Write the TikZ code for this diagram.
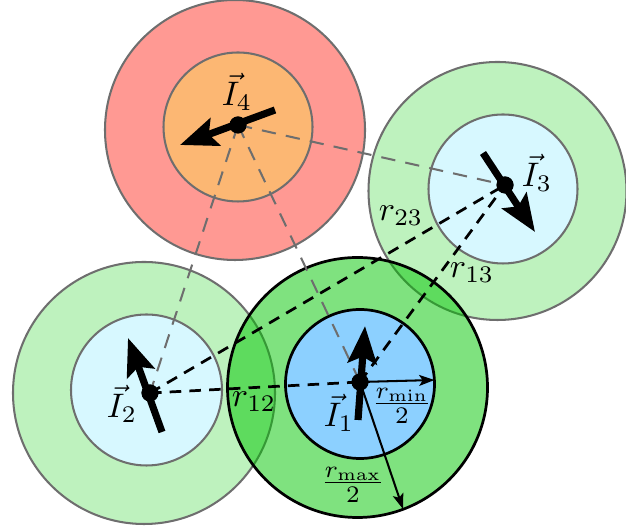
\documentclass[tikz,border=0pt]{standalone}
\usetikzlibrary{arrows.meta}
\definecolor{redring}{RGB}{255,153,147}
\definecolor{orangecore}{RGB}{252,183,115}
\definecolor{greenring}{RGB}{190,242,190}
\definecolor{cyancore}{RGB}{215,248,255}
\definecolor{mainring}{RGB}{0,197,0}
\definecolor{maincore}{RGB}{140,208,255}
\definecolor{edgegray}{RGB}{110,110,110}
\begin{document}
\begin{tikzpicture}[x=0.294pt,y=-0.294pt,
  ring/.style={draw=edgegray, line width=0.6pt},
  mainedge/.style={draw=black, line width=0.8pt},
  dot/.style={circle, fill=black, inner sep=0pt, minimum size=5pt},
  current/.style={line width=2.1pt, -{Stealth[length=11pt,width=8.5pt,inset=2pt]}},
  radiusarrow/.style={line width=0.6pt, -{Stealth[length=4.5pt,width=3.2pt,inset=1pt]}},
  graydash/.style={draw=edgegray, line width=0.6pt, dash pattern=on 4.2pt off 3pt},
  blackdash/.style={draw=black, line width=0.8pt, dash pattern=on 3.4pt off 2.4pt},
  lbl/.style={inner sep=0pt}]
\useasboundingbox (0,0) rectangle (626,531);

% circle 4
\draw[ring, fill=redring] (235,130) circle[radius=130];
\draw[ring, fill=orangecore] (238,127) circle[radius=74.5];
% circle 3
\draw[ring, fill=greenring] (497.5,191) circle[radius=129];
\draw[ring, fill=cyancore] (503,189) circle[radius=74.5];
% circle 2
\draw[ring, fill=greenring] (144,393) circle[radius=131];
\draw[ring, fill=cyancore] (146.5,390) circle[radius=75.5];
% circle 1 (translucent outer ring)
\fill[mainring, fill opacity=0.5] (357.5,387.5) circle[radius=130];
\draw[mainedge] (357.5,387.5) circle[radius=130];
\draw[mainedge, fill=maincore] (360,384) circle[radius=74.5];

% centres
\node[dot] (c1) at (360,382) {};
\node[dot] (c2) at (150,393) {};
\node[dot] (c3) at (505,185) {};
\node[dot] (c4) at (238,125) {};

% gray dashed connectors from I4
\draw[graydash] (c4.center) -- (c1.center);
\draw[graydash] (c4.center) -- (c2.center);
\draw[graydash] (c4.center) -- (c3.center);

% black dashed connectors
\draw[blackdash] (c2.center) -- (c1.center);
\draw[blackdash] (c2.center) -- (c3.center);
\draw[blackdash] (c1.center) -- (c3.center);

% radius arrows
\coordinate (rminEnd) at (434.5,380);
\coordinate (rmaxEnd) at (403,509);
\draw[radiusarrow] (c1.center) -- (rminEnd);
\draw[radiusarrow] (c1.center) -- (rmaxEnd);

% current vectors
\coordinate (t1) at (358,420); \coordinate (h1) at (365,326);
\coordinate (t2) at (162,432); \coordinate (h2) at (128,338);
\coordinate (t3) at (483,153); \coordinate (h3) at (535,232);
\coordinate (t4) at (275,110); \coordinate (h4) at (180,145);
\draw[current] (t1) -- (h1);
\draw[current] (t2) -- (h2);
\draw[current] (t3) -- (h3);
\draw[current] (t4) -- (h4);
\node[dot] at (c1) {};
\node[dot] at (c2) {};
\node[dot] at (c3) {};
\node[dot] at (c4) {};

% labels
\node[lbl] (lI1) at (339,413) {$\vec{I}_1$};
\node[lbl] (lI2) at (122,404) {$\vec{I}_2$};
\node[lbl] (lI3) at (537,173) {$\vec{I}_3$};
\node[lbl] (lI4) at (237,92) {$\vec{I}_4$};
\node[lbl] (l12) at (254,402) {$r_{12}$};
\node[lbl] (l23) at (401,216) {$r_{23}$};
\node[lbl] (l13) at (472,273) {$r_{13}$};
\node[lbl] (lmin) at (402,406) {$\frac{r_{\min}}{2}$};
\node[lbl] (lmax) at (353,485) {$\frac{r_{\max}}{2}$};
\end{tikzpicture}
\end{document}
